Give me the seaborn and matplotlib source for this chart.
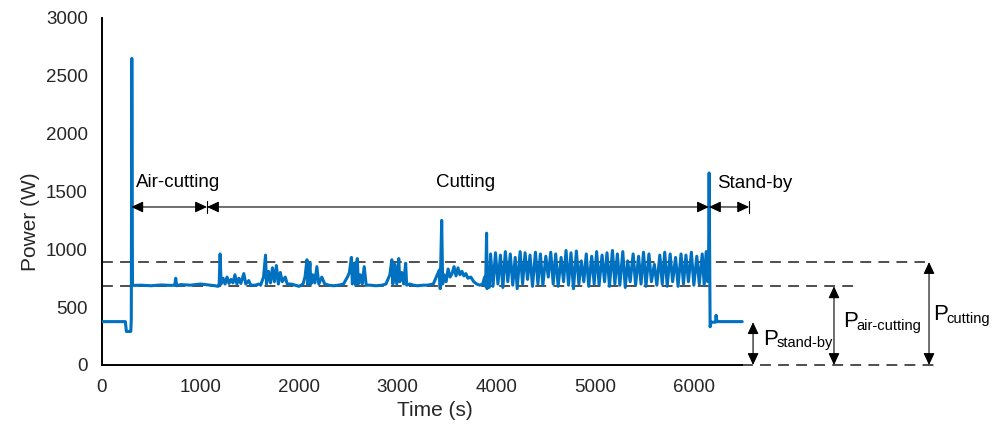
import matplotlib
matplotlib.use("Agg")
import matplotlib.pyplot as plt
import seaborn as sns
import numpy as np
import pandas as pd

sns.set_style("white")
plt.rcParams['font.family'] = ['Liberation Sans', 'DejaVu Sans']

# ---------------- data ----------------
# initial stand-by
t_standby_start = [0, 240, 250, 295, 300, 305, 312]
p_standby_start = [375, 375, 290, 290, 400, 2650, 690]

# air-cutting
t_air = [330, 400, 500, 600, 700, 740, 750, 760, 800, 900, 1000, 1050, 1100, 1150, 1180]
p_air = [688, 690, 685, 692, 688, 690, 750, 685, 695, 690, 700, 695, 690, 685, 680]

# cutting, first part (sporadic spikes)
t_cut1 = [1190, 1200, 1210, 1230, 1250, 1270, 1290, 1310, 1330, 1350, 1370, 1390, 1410, 1440, 1460,
          1490, 1510, 1560, 1590, 1610, 1640, 1660, 1670, 1690, 1710, 1730, 1750, 1770, 1790, 1810,
          1830, 1860, 1880, 1920, 1960, 2000, 2040, 2060, 2080, 2090, 2110, 2120, 2140, 2160, 2180,
          2200, 2230, 2260, 2300, 2350, 2400, 2450, 2490, 2510, 2530, 2540, 2560, 2575, 2590, 2600,
          2620, 2640, 2660, 2680, 2720, 2780, 2840, 2880, 2920, 2940, 2950, 2970, 2990, 3010, 3020,
          3040, 3060, 3080, 3090, 3120, 3160, 3200, 3260, 3300, 3360, 3400, 3420, 3430, 3445, 3455]
p_cut1 = [690, 960, 700, 750, 700, 760, 705, 740, 710, 780, 700, 750, 705, 790, 700,
          730, 690, 690, 700, 690, 760, 950, 700, 810, 710, 840, 720, 860, 700, 800,
          720, 760, 700, 700, 690, 680, 700, 760, 910, 690, 880, 700, 780, 710, 850,
          700, 760, 700, 690, 685, 690, 700, 760, 800, 930, 700, 880, 690, 920, 700,
          780, 700, 850, 690, 690, 685, 690, 700, 780, 910, 700, 870, 700, 920, 720,
          800, 700, 880, 690, 700, 690, 685, 690, 690, 700, 780, 820, 660, 1250, 700]

# cutting, hump
t_cut2 = [3470, 3490, 3510, 3530, 3550, 3570, 3590, 3610, 3630, 3650, 3670, 3690, 3710, 3740, 3770,
          3800, 3830, 3860, 3880, 3890, 3900, 3905, 3915, 3925]
p_cut2 = [780, 720, 830, 760, 790, 850, 770, 840, 780, 810, 770, 790, 750, 760, 720,
          700, 690, 700, 760, 680, 1140, 660, 820, 670]

# cutting, periodic part
t_cut3 = [3940, 3965, 3990, 4015, 4040, 4065, 4090, 4115, 4140, 4165, 4190, 4210, 4240, 4265, 4290,
          4315, 4340, 4365, 4395, 4420, 4445, 4470, 4500, 4525, 4550, 4575, 4600, 4625, 4655, 4680,
          4705, 4730, 4755, 4780, 4810, 4835, 4860, 4885, 4910, 4935, 4965, 4990, 5015, 5040, 5070,
          5095, 5120, 5145, 5175, 5200, 5225, 5250, 5280, 5305, 5330, 5355, 5385, 5410, 5440, 5465,
          5490, 5515, 5545, 5570, 5600, 5625, 5655, 5680, 5705, 5730, 5760, 5785, 5815, 5840, 5870,
          5895, 5920, 5945, 5975, 6000, 6030, 6055, 6085, 6105, 6125, 6140]
p_cut3 = [960, 680, 970, 700, 950, 670, 980, 720, 960, 690, 930, 660, 980, 700, 970,
          740, 950, 680, 975, 700, 960, 690, 940, 760, 975, 700, 960, 680, 930, 720,
          990, 690, 970, 660, 985, 700, 900, 720, 960, 680, 940, 700, 980, 690, 950,
          720, 970, 680, 990, 700, 960, 690, 980, 670, 900, 720, 960, 690, 940, 700,
          975, 680, 960, 720, 870, 690, 950, 700, 975, 680, 960, 720, 930, 680, 960,
          700, 950, 720, 975, 690, 940, 700, 960, 690, 980, 720]

# final stand-by
t_standby_end = [6150, 6155, 6165, 6175, 6220, 6225, 6235, 6490]
p_standby_end = [1000, 1660, 330, 370, 370, 430, 375, 375]

# annotation values
phase_names = ["Air-cutting", "Cutting", "Stand-by"]
phase_bounds = [300, 1067, 6153, 6560]
p_standby, p_aircut, p_cutting = 370, 680, 890
x_ticks = [0, 1000, 2000, 3000, 4000, 5000, 6000]
y_ticks = [0, 500, 1000, 1500, 2000, 2500, 3000]

time_s = t_standby_start + t_air + t_cut1 + t_cut2 + t_cut3 + t_standby_end
power_w = p_standby_start + p_air + p_cut1 + p_cut2 + p_cut3 + p_standby_end
df = pd.DataFrame({"Time (s)": time_s, "Power (W)": power_w})

# ---------------- figure ----------------
fig = plt.figure(figsize=(9.97, 4.25), dpi=100)
ax = fig.add_axes([0.102, 0.1412, 0.881, 0.8165])

sns.lineplot(data=df, x="Time (s)", y="Power (W)", estimator=None, sort=False,
             color="#0070C0", linewidth=2.2, ax=ax, zorder=3)

ax.set_xlim(0, 8900)
ax.set_ylim(0, 3000)
ax.set_xticks(x_ticks)
ax.set_yticks(y_ticks)
ax.tick_params(axis='both', direction='out', length=4, width=1.2, labelsize=13.5,
               colors='black', labelcolor='#262626', pad=6)
for s in ['top', 'right']:
    ax.spines[s].set_visible(False)
ax.spines['left'].set_bounds(0, 3000)
ax.spines['bottom'].set_bounds(0, 6490)
for s in ['left', 'bottom']:
    ax.spines[s].set_linewidth(1.4)
    ax.spines[s].set_color('black')

ax.set_xlabel("Time (s)", fontsize=15, color='#262626')
ax.set_ylabel("Power (W)", fontsize=15, color='#262626')
ax.xaxis.set_label_coords(0.379, -0.132)
ax.xaxis.label.set_va('center')
ax.yaxis.set_label_coords(-0.0816, 0.412)
ax.yaxis.label.set_va('center')

# dashed reference lines
dash_kw = dict(color='#404040', linewidth=1.3, linestyle=(0, (6, 4)), zorder=2, clip_on=False)
ax.plot([0, 8340], [p_cutting, p_cutting], **dash_kw)
ax.plot([0, 7660], [p_aircut, p_aircut], **dash_kw)
ax.plot([6490, 8440], [0, 0], **dash_kw)

# horizontal phase arrows
arrow_y = 1366
akw = dict(arrowstyle='<|-|>,head_length=0.6,head_width=0.28', color='black', lw=0.8,
           mutation_scale=12, shrinkA=0, shrinkB=0)
for a, b in zip(phase_bounds[:-1], phase_bounds[1:]):
    ax.annotate('', xy=(b, arrow_y), xytext=(a, arrow_y), arrowprops=akw)
for xb in [phase_bounds[1], phase_bounds[3]]:
    ax.plot([xb, xb], [arrow_y - 55, arrow_y + 55], color='black', lw=0.8)

tkw = dict(fontsize=13.5, color='black', va='baseline')
ax.text(347, 1539, phase_names[0], ha='left', **tkw)
ax.text(3684, 1539, phase_names[1], ha='center', **tkw)
ax.text(6234, 1530, phase_names[2], ha='left', **tkw)

# vertical level arrows
for xv, lev in [(6600, p_standby), (7420, p_aircut), (8383, p_cutting)]:
    ax.annotate('', xy=(xv, lev), xytext=(xv, 0), arrowprops=akw, annotation_clip=False)

for (xp, yp, xs, ys, sub) in [(6700, 173, 6840, 156, "stand-by"),
                               (7511, 329, 7651, 303, "air-cutting"),
                               (8423, 389, 8563, 363, "cutting")]:
    ax.text(xp, yp, "P", fontsize=16, color='black', va='baseline', ha='left')
    ax.text(xs, ys, sub, fontsize=10.5, color='black', va='baseline', ha='left')

fig.savefig("out.png", dpi=100)
